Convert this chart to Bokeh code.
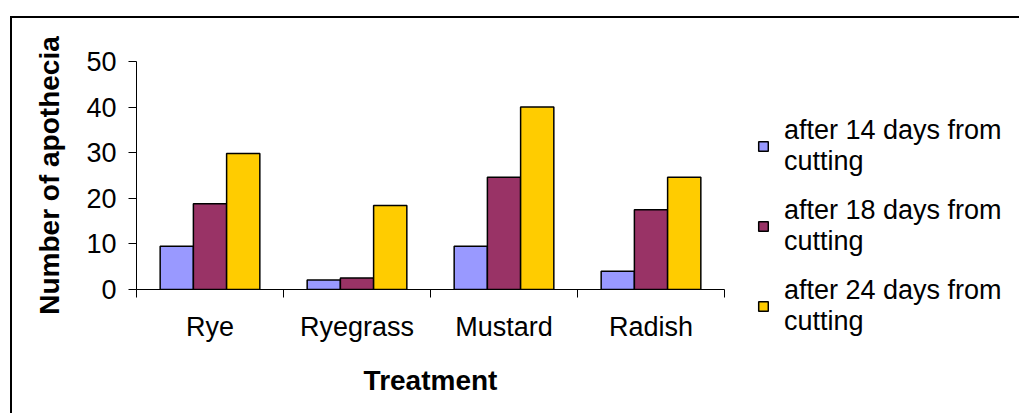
from bokeh.plotting import figure
from bokeh.models import (Range1d, LinearAxis, FixedTicker, Legend, LegendItem, ColumnDataSource,
                          InlineStyleSheet)
from bokeh.transform import dodge
from bokeh.embed import file_html
from bokeh.resources import INLINE

categories = ["Rye", "Ryegrass", "Mustard", "Radish"]
days14 = [9.5, 2.1, 9.5, 4.0]
days18 = [18.8, 2.5, 24.6, 17.5]
days24 = [29.8, 18.4, 40.0, 24.6]
series_names = ["after 14 days from\ncutting", "after 18 days from\ncutting", "after 24 days from\ncutting"]
colors = ["#9999FF", "#993366", "#FFCC00"]
y_ticks = [0, 10, 20, 30, 40, 50]

FONT = "Liberation Sans"
n = len(categories)
centers = [i + 0.5 for i in range(n)]

src = ColumnDataSource(dict(x=centers, cat=categories, d14=days14, d18=days18, d24=days24))

p = figure(x_range=Range1d(0, n), y_range=Range1d(0, 50),
           frame_width=588, frame_height=228, output_backend="svg", toolbar_location=None,
           x_axis_location=None, min_border_left=136, min_border_right=0,
           min_border_top=61, min_border_bottom=124)
p.outline_line_color = None
p.xgrid.visible = False
p.ygrid.visible = False
p.background_fill_color = "white"
p.border_fill_color = None
# outer chart-area border: top and left edges (right/bottom edges lie outside the window)
p.stylesheets = [InlineStyleSheet(css="""
:host {
  background-color: white;
  background-image: linear-gradient(#000, #000), linear-gradient(#000, #000);
  background-position: 10px 16px, 10px 16px;
  background-size: 3000px 2px, 2px 3000px;
  background-repeat: no-repeat, no-repeat;
}
""")]

bw = 0.226
renderers = []
for col, off, c in zip(["d14", "d18", "d24"], [-bw, 0, bw], colors):
    r = p.vbar(x=dodge("x", off), top=col, width=bw, source=src,
               fill_color=c, line_color="black", line_width=1.5)
    renderers.append(r)

# y axis
yax = p.yaxis[0]
yax.ticker = FixedTicker(ticks=y_ticks)
yax.minor_tick_line_color = None
yax.major_tick_out = 8
yax.major_tick_in = 0
yax.axis_line_color = "black"
yax.major_tick_line_color = "black"
yax.major_label_text_font = FONT
yax.major_label_text_font_size = "27px"
yax.major_label_text_color = "black"
yax.major_label_standoff = 12
yax.axis_label = "Number of apothecia"
yax.axis_label_text_font = FONT
yax.axis_label_text_font_style = "bold"
yax.axis_label_text_font_size = "28px"
yax.axis_label_text_color = "black"
yax.axis_label_standoff = 18

# x axis: ticks at category boundaries
bounds = list(range(n + 1))
tick_ax = LinearAxis(ticker=FixedTicker(ticks=bounds),
                     major_label_overrides={b: "" for b in bounds},
                     major_label_text_font_size="1px", major_label_standoff=0,
                     major_tick_out=8, major_tick_in=0, minor_tick_line_color=None,
                     axis_line_color="black", major_tick_line_color="black")
p.add_layout(tick_ax, "below")

# x axis: category names at centers
cat_ax = LinearAxis(ticker=FixedTicker(ticks=centers),
                    major_label_overrides={c: name for c, name in zip(centers, categories)},
                    axis_line_color=None, major_tick_line_color=None, minor_tick_line_color=None,
                    major_label_text_font=FONT, major_label_text_font_size="27px",
                    major_label_text_color="black", major_label_standoff=8,
                    axis_label="Treatment", axis_label_text_font=FONT,
                    axis_label_text_font_style="bold", axis_label_text_font_size="28px",
                    axis_label_text_color="black", axis_label_standoff=20)
p.add_layout(cat_ax, "below")

legend = Legend(items=[LegendItem(label=nm, renderers=[r]) for nm, r in zip(series_names, renderers)],
                location=(33, -48), border_line_color=None, background_fill_alpha=0,
                label_text_font=FONT, label_text_font_size="27px", label_text_color="black",
                label_text_line_height=1.3, glyph_width=12, glyph_height=12,
                label_standoff=15, spacing=18, padding=0, margin=0)
p.add_layout(legend, "right")

open("out.html", "w").write(file_html(p, INLINE))
